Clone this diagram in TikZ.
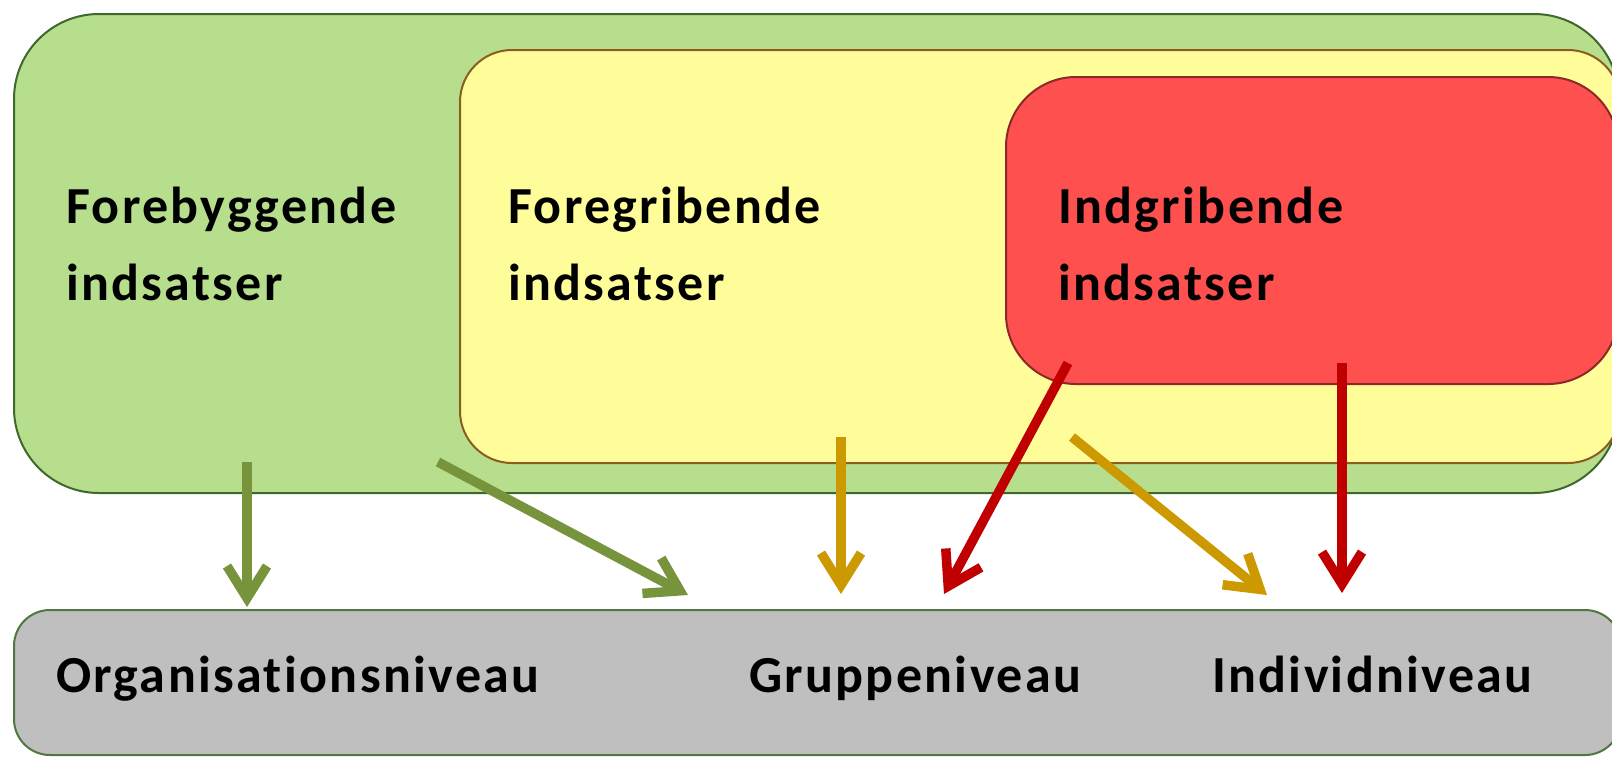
\documentclass[tikz,border=0pt]{standalone}
\usepackage{fontspec}
\setmainfont{Carlito}[Ligatures=NoCommon]
\newfontfamily\lblfont{Carlito}[Ligatures=NoCommon, BoldFont={Carlito Bold}, LetterSpace=4.5]
\usetikzlibrary{arrows.meta}
\definecolor{grnfill}{RGB}{182,222,140}
\definecolor{grnline}{RGB}{62,104,44}
\definecolor{yelfill}{RGB}{255,253,153}
\definecolor{yelline}{RGB}{140,92,32}
\definecolor{redfill}{RGB}{255,80,80}
\definecolor{redline}{RGB}{140,40,40}
\definecolor{gryfill}{RGB}{191,191,191}
\definecolor{gryline}{RGB}{80,118,66}
\definecolor{arrgrn}{RGB}{119,147,60}
\definecolor{arrgold}{RGB}{204,153,0}
\definecolor{arrred}{RGB}{192,0,0}
\tikzset{
  box/.style={rectangle, draw, line width=2pt, inner sep=0pt, anchor=north west},
  lbl/.style={inner sep=0pt, anchor=base west, font=\lblfont\bfseries\fontsize{52}{62}\selectfont},
  arr/.style={line width=9.5pt, -{Straight Barb[length=32pt,width=40pt]}}
}
\begin{document}
\begin{tikzpicture}[x=1pt,y=-1pt]
\useasboundingbox (0,0) rectangle (1612,756);
\clip (0,0) rectangle (1612,756);
\fill[white] (0,0) rectangle (1612,756);
% boxes
\node[box, fill=grnfill, draw=grnline, rounded corners=85pt, minimum width=1605pt, minimum height=479pt] (gbox) at (13,13) {};
\node[box, fill=yelfill, draw=yelline, rounded corners=52pt, minimum width=1160pt, minimum height=413pt] (ybox) at (459,49) {};
\node[box, fill=redfill, draw=redline, rounded corners=70pt, minimum width=612pt, minimum height=307pt] (rbox) at (1005,76) {};
\node[box, fill=gryfill, draw=gryline, rounded corners=36pt, minimum width=1607pt, minimum height=145pt] (lbox) at (13,609) {};
% labels
\node[lbl] (t1a) at (66,223) {Forebyggende};
\node[lbl] (t1b) at (66,300) {indsatser};
\node[lbl] (t2a) at (508,223) {Foregribende};
\node[lbl] (t2b) at (508,300) {indsatser};
\node[lbl] (t3a) at (1058,223) {Indgribende};
\node[lbl] (t3b) at (1058,300) {indsatser};
\node[lbl] (l1) at (56,692) {Organisationsniveau};
\node[lbl] (l2) at (749,692) {Gruppeniveau};
\node[lbl] (l3) at (1212,692) {Individniveau};
% arrow end points
\coordinate (g1s) at (247,462);
\coordinate (g1e) at (247,607);
\coordinate (g2s) at (438,462);
\coordinate (g2e) at (688,595);
\coordinate (y1s) at (841,437);
\coordinate (y1e) at (841,594);
\coordinate (y2s) at (1072,437);
\coordinate (y2e) at (1267,595);
\coordinate (r1s) at (1068,363);
\coordinate (r1e) at (944,594);
\coordinate (r2s) at (1342,363);
\coordinate (r2e) at (1342,593);
% arrows
\draw[arr, draw=arrgrn] (g1s) -- (g1e);
\draw[arr, draw=arrgrn] (g2s) -- (g2e);
\draw[arr, draw=arrgold] (y1s) -- (y1e);
\draw[arr, draw=arrgold] (y2s) -- (y2e);
\draw[arr, draw=arrred] (r1s) -- (r1e);
\draw[arr, draw=arrred] (r2s) -- (r2e);
\end{tikzpicture}
\end{document}
